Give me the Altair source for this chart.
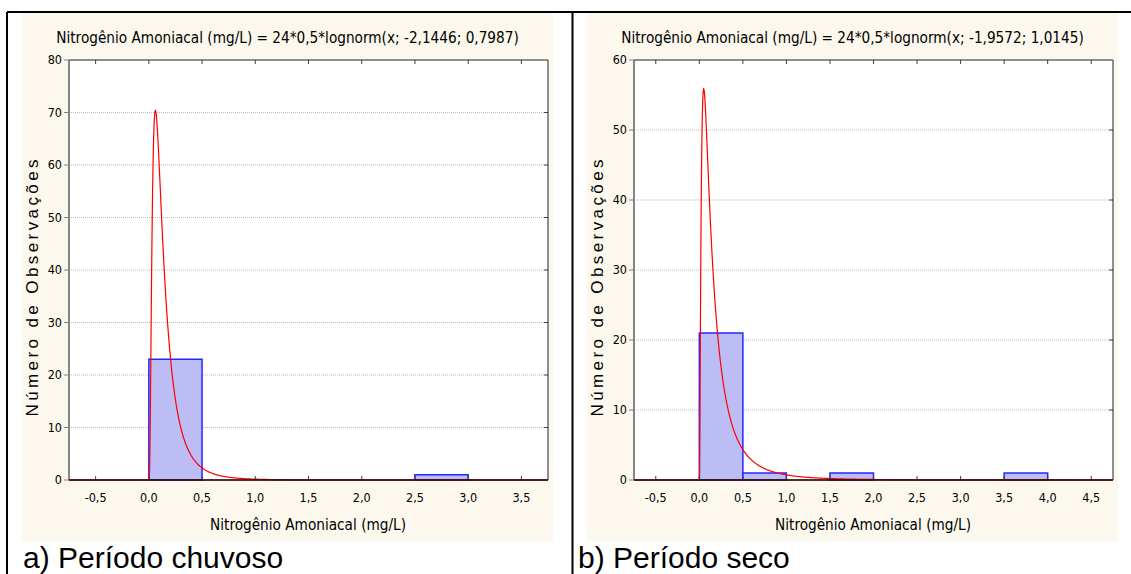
import altair as alt
import numpy as np
import pandas as pd

# Histogram bins (mg/L) with non-zero counts, per sampling period
rain_bin_lo = [0.0, 2.5]
rain_bin_hi = [0.5, 3.0]
rain_count = [23, 1]

dry_bin_lo = [0.0, 0.5, 1.5, 3.5]
dry_bin_hi = [0.5, 1.0, 2.0, 4.0]
dry_count = [21, 1, 1, 1]

# Fitted lognormal parameters (mu, sigma); curve scaled by N * bin width
rain_fit = [-2.1446, 0.7987]
dry_fit = [-1.9572, 1.0145]
n_obs = 24
bin_width = 0.5

rain_xdomain = [-0.75, 3.75]
dry_xdomain = [-0.75, 4.75]
rain_xticks = [-0.5, 0.0, 0.5, 1.0, 1.5, 2.0, 2.5, 3.0, 3.5]
dry_xticks = [-0.5, 0.0, 0.5, 1.0, 1.5, 2.0, 2.5, 3.0, 3.5, 4.0, 4.5]
rain_yticks = [0, 10, 20, 30, 40, 50, 60, 70, 80]
dry_yticks = [0, 10, 20, 30, 40, 50, 60]

rain_title = ["Nitrogênio Amoniacal (mg/L) = 24*0,5*lognorm(x; -2,1446; 0,7987)"]
dry_title = ["Nitrogênio Amoniacal (mg/L) = 24*0,5*lognorm(x; -1,9572; 1,0145)"]
captions = ["a) Período chuvoso", "b) Período seco"]
x_title = ["Nitrogênio Amoniacal (mg/L)"]
y_title = "Número de Observações"

NARROW = "DejaVu Sans Condensed, Liberation Sans Narrow, sans-serif"
REGULAR = "Liberation Sans, Arial, sans-serif"
BEIGE = "#fcf8ed"
W, H = 479, 420


def spaced(text):
    # widen the tracking of the vertical axis title with thin spaces
    thin, nb = "\u2009", "\u00a0"
    return (thin + nb + thin).join(thin.join(list(w)) for w in text.split(" "))


def comma(v):
    return f"{v:.1f}".replace(".", ",")


def lognorm_curve(fit, xdomain, step=0.0025):
    mu, sigma = fit
    x = np.arange(xdomain[0], xdomain[1] + step / 2, step)
    y = np.zeros_like(x)
    pos = x > 0
    xp = x[pos]
    y[pos] = (n_obs * bin_width
              * np.exp(-(np.log(xp) - mu) ** 2 / (2 * sigma ** 2))
              / (xp * sigma * np.sqrt(2 * np.pi)))
    return pd.DataFrame({"x": x, "y": y})


def panel(bin_lo, bin_hi, counts, fit, xdomain, xticks, yticks, title, caption,
          caption_x, frame):
    xs = alt.Scale(domain=xdomain, nice=False, zero=False)
    ys = alt.Scale(domain=[yticks[0], yticks[-1]], nice=False, zero=True)

    bars_df = pd.DataFrame({"lo": bin_lo, "hi": bin_hi, "n": counts})
    curve_df = lognorm_curve(fit, xdomain)
    inner_y = pd.DataFrame({"v": yticks[1:-1]})
    yl_df = pd.DataFrame({"v": yticks, "lab": [str(v) for v in yticks]})
    xt_df = pd.DataFrame({"v": xticks, "lab": [comma(v) for v in xticks]})
    base_one = pd.DataFrame({"k": [0]})

    def px_rule(color, width=1.0, **enc):
        return alt.Chart(base_one).mark_rule(color=color, strokeWidth=width).encode(
            **{k: alt.value(v) for k, v in enc.items()})

    beige = alt.Chart(base_one).mark_rect(color=BEIGE).encode(
        x=alt.value(-47), x2=alt.value(484), y=alt.value(-47), y2=alt.value(481))
    white = alt.Chart(base_one).mark_rect(color="#ffffff").encode(
        x=alt.value(0), x2=alt.value(W), y=alt.value(0), y2=alt.value(H))
    grid = alt.Chart(inner_y).mark_rule(color="#bdbdbd", strokeDash=[1, 1], strokeWidth=1).encode(
        y=alt.Y("v:Q", scale=ys, axis=None), x=alt.value(0), x2=alt.value(W))
    bars = alt.Chart(bars_df).mark_rect(fill="#bdbdf6", stroke="#2626ff", strokeWidth=1.5).encode(
        x=alt.X("lo:Q", scale=xs, axis=None), x2="hi",
        y=alt.Y("n:Q", scale=ys, axis=None), y2=alt.datum(0))
    curve = alt.Chart(curve_df).mark_line(color="#ff0000", strokeWidth=1.2).encode(
        x=alt.X("x:Q", scale=xs, axis=None), y=alt.Y("y:Q", scale=ys, axis=None))

    # tick marks: inward on bottom, top and right, outward on the left
    bottom_ticks = alt.Chart(xt_df).mark_rule(color="#404040").encode(
        x=alt.X("v:Q", scale=xs, axis=None), y=alt.value(H - 4), y2=alt.value(H))
    top_ticks = alt.Chart(xt_df).mark_rule(color="#404040").encode(
        x=alt.X("v:Q", scale=xs, axis=None), y=alt.value(0), y2=alt.value(4))
    right_ticks = alt.Chart(inner_y).mark_rule(color="#404040").encode(
        y=alt.Y("v:Q", scale=ys, axis=None), x=alt.value(W - 4), x2=alt.value(W))
    left_ticks = alt.Chart(yl_df).mark_rule(color="#808080").encode(
        y=alt.Y("v:Q", scale=ys, axis=None), x=alt.value(-5), x2=alt.value(0))

    border = alt.Chart(base_one).mark_rect(fillOpacity=0, stroke="#222222", strokeWidth=1).encode(
        x=alt.value(0), x2=alt.value(W), y=alt.value(0), y2=alt.value(H))
    left_domain = px_rule("#808080", 1.2, x=0, x2=0, y=0, y2=H)
    bottom_domain = px_rule("#3d0a0e", 1.5, x=0, x2=W, y=H, y2=H)

    y_labels = alt.Chart(yl_df).mark_text(
        font=NARROW, fontSize=12.5, align="right", baseline="middle", color="#000").encode(
        y=alt.Y("v:Q", scale=ys, axis=None), x=alt.value(-7), text="lab:N")
    x_labels = alt.Chart(xt_df).mark_text(
        font=NARROW, fontSize=12.5, align="center", baseline="alphabetic", color="#000").encode(
        x=alt.X("v:Q", scale=xs, axis=None), y=alt.value(H + 21.5), text="lab:N")
    x_name = alt.Chart(pd.DataFrame({"t": x_title})).mark_text(
        font=NARROW, fontSize=15.2, align="center", baseline="alphabetic", color="#000").encode(
        x=alt.value(239), y=alt.value(H + 50), text="t:N")
    y_name = alt.Chart(pd.DataFrame({"t": [spaced(y_title)]})).mark_text(
        font=REGULAR, fontSize=17, angle=270, align="center", baseline="alphabetic",
        color="#000").encode(x=alt.value(-31), y=alt.value(228), text="t:N")

    head = alt.Chart(pd.DataFrame({"t": title})).mark_text(
        font=NARROW, fontSize=15.2, align="center", baseline="alphabetic", color="#000").encode(
        x=alt.value(218.5), y=alt.value(-17), text="t:N")
    cap = alt.Chart(pd.DataFrame({"t": [caption]})).mark_text(
        font=REGULAR, fontSize=30, align="left", baseline="alphabetic", color="#000").encode(
        x=alt.value(caption_x), y=alt.value(508), text="t:N")

    layers = [beige, white, grid, bars, curve, bottom_ticks, top_ticks, right_ticks,
              border, left_domain, bottom_domain, left_ticks, y_labels, x_labels,
              x_name, y_name, head, cap]

    if frame:
        # outer frame and the divider between the two panels
        layers += [
            px_rule("#000", 2, x=-627, x2=497, y=-48, y2=-48),
            px_rule("#000", 2, x=-627, x2=-627, y=-48, y2=520),
            px_rule("#000", 2, x=-61.5, x2=-61.5, y=-48, y2=520),
        ]

    return alt.layer(*layers).properties(width=W, height=H)


left = panel(rain_bin_lo, rain_bin_hi, rain_count, rain_fit, rain_xdomain,
             rain_xticks, rain_yticks, rain_title, captions[0], -46, False)
right = panel(dry_bin_lo, dry_bin_hi, dry_count, dry_fit, dry_xdomain,
              dry_xticks, dry_yticks, dry_title, captions[1], -56, True)

chart = alt.hconcat(left, right, spacing=86, bounds="flush").properties(
    autosize=alt.AutoSizeParams(type="none"),
    padding={"left": 69, "top": 60, "right": 1131 - 69, "bottom": 574 - 60},
    background="#ffffff",
).configure_view(strokeWidth=0)

chart.save("out.html", embed_options={"renderer": "svg", "actions": False})
